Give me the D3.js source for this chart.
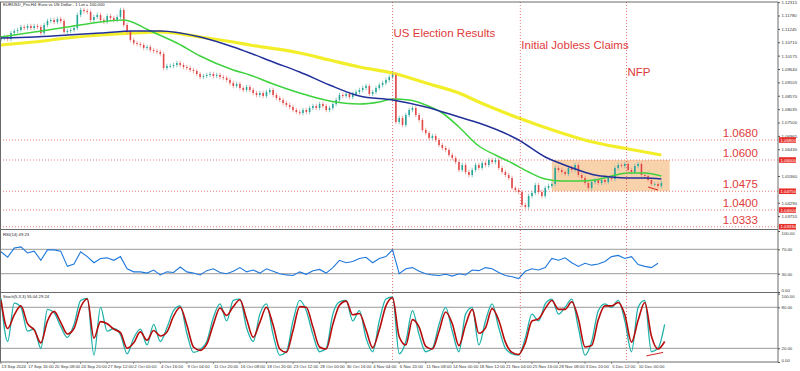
<!DOCTYPE html>
<html>
<head>
<meta charset="utf-8">
<script src="https://cdn.jsdelivr.net/npm/d3@7"></script>
<style>
  body { margin: 0; background: #fff; }
  svg { display: block; font-family: "Liberation Sans", Arial, sans-serif; }
</style>
</head>
<body>
<div id="chart"></div>
<script>
// ---- data ----
// H4 chart, candles taken every 2 bars (8h), index i sits at bar 2*i
var closes = [
  1.1088,1.1092,1.1084,1.1108,1.1116,1.1120,1.1132,1.1128,1.1136,1.1128,
  1.1136,1.1132,1.1108,1.1140,1.1156,1.1160,1.1152,1.1164,1.1156,1.1112,
  1.1116,1.1120,1.1128,1.1180,1.1200,1.1196,1.1192,1.1160,1.1172,1.1180,
  1.1160,1.1152,1.1176,1.1168,1.1160,1.1172,1.1200,1.1140,1.1112,1.1080,
  1.1068,1.1064,1.1060,1.1048,1.1052,1.1040,1.1036,1.1032,1.1024,1.0968,
  1.0976,1.0976,1.0980,1.0988,1.0980,1.0972,1.0968,1.0960,1.0956,1.0944,
  1.0932,1.0936,1.0940,1.0944,1.0936,1.0940,1.0932,1.0928,
  1.0920,1.0908,1.0896,1.0904,1.0888,1.0880,1.0892,1.0880,1.0868,1.0860,
  1.0868,1.0856,1.0872,1.0880,1.0860,1.0848,1.0840,1.0828,1.0820,1.0812,
  1.0800,1.0792,1.0788,1.0800,1.0792,1.0808,1.0816,1.0808,1.0824,1.0816,
  1.0800,1.0808,1.0824,1.0840,1.0860,1.0856,1.0864,1.0852,1.0864,1.0872,
  1.0880,1.0888,1.0896,1.0864,1.0872,1.0888,1.0900,1.0908,1.0920,1.0932,
  1.0940,1.0752,1.0768,1.0740,1.0780,1.0800,1.0808,1.0780,1.0760,1.0720,
  1.0708,1.0688,1.0696,1.0680,1.0660,1.0648,1.0640,1.0620,1.0608,1.0592,
  1.0560,1.0580,1.0552,1.0540,1.0560,1.0580,1.0568,1.0588,1.0580,1.0600,
  1.0592,1.0600,1.0568,1.0552,1.0540,1.0528,1.0488,1.0480,1.0472,1.0420,
  1.0412,1.0456,1.0468,1.0500,1.0472,1.0456,1.0488,1.0496,1.0504,1.0568,
  1.0560,1.0552,1.0544,1.0568,1.0560,1.0580,1.0540,1.0528,1.0508,1.0488,
  1.0512,1.0520,1.0508,1.0520,1.0512,1.0528,1.0524,1.0568,1.0580,1.0576,
  1.0584,1.0560,1.0552,1.0576,1.0584,1.0540,1.0536,1.0520,1.0504,1.0504,
  1.0496,1.0508
];
var firstOpen = 1.1082;

// moving averages: [candle index, price]
var maFast = [[0,1.1092],[10,1.1112],[20,1.1132],[30,1.1152],[37,1.1160],[45,1.1116],[53,1.1068],
  [60,1.1016],[70,1.0960],[75,1.0940],[82,1.0904],[90,1.0868],[99,1.0836],[108,1.0824],[114,1.0832],
  [118,1.0844],[123,1.0840],[128,1.0820],[133,1.0788],[138,1.0732],[144,1.0656],[149,1.0620],
  [154,1.0588],[159,1.0552],[164,1.0524],[169,1.0516],[174,1.0516],[179,1.0520],[184,1.0536],
  [189,1.0548],[194,1.0548],[199,1.0536]];
var maMid = [[0,1.1088],[10,1.1092],[20,1.1100],[30,1.1108],[40,1.1116],[48,1.1116],[60,1.1092],
  [70,1.1052],[75,1.1028],[82,1.0992],[90,1.0952],[99,1.0900],[108,1.0856],[118,1.0840],[128,1.0812],
  [138,1.0772],[144,1.0748],[156,1.0680],[164,1.0612],[169,1.0584],[174,1.0560],[179,1.0540],
  [184,1.0532],[189,1.0528],[194,1.0528],[199,1.0524]];
var maSlow = [[0,1.1060],[10,1.1072],[20,1.1088],[30,1.1100],[40,1.1108],[48,1.1112],[60,1.1092],
  [70,1.1072],[75,1.1060],[90,1.1028],[99,1.1000],[108,1.0972],[118,1.0948],[128,1.0908],
  [138,1.0868],[144,1.0832],[156,1.0768],[168,1.0712],[177,1.0676],[189,1.0644],[199,1.0620]];

// oscillators, one value every 4 bars
var rsi = [66,57,72,74,64,67,52,69,69,67,42,46,66,58,48,55,56,52,58,38,
  33,33,31,36,28,33,32,41,33,31,28,35,38,32,30,34,40,33,36,31,
  38,34,30,28,27,33,29,35,37,31,40,52,48,50,55,57,48,55,58,69,
  30,38,40,34,30,28,27,29,26,30,28,36,35,40,38,32,27,25,22,34,
  38,36,40,55,52,56,48,42,47,44,46,50,58,60,55,58,45,42,40,47];
var stochMain = [93,30,86,80,45,48,20,77,72,52,36,55,90,93,10,80,45,49,40,12,
  35,48,25,55,30,50,75,82,42,14,18,30,65,85,60,90,92,50,30,70,
  85,40,10,15,60,90,75,40,15,20,70,88,90,60,75,35,15,60,92,95,
  12,30,75,40,15,20,55,80,45,15,70,80,25,60,85,50,20,12,10,35,
  70,60,85,92,70,80,92,50,10,30,75,85,80,90,60,15,80,90,15,20,55];
var stochSignal = [90,49,69,82,56,47,28,60,74,58,41,49,80,92,35,59,56,48,43,20,
  28,44,32,46,38,44,67,80,54,22,17,26,55,79,68,81,91,63,36,58,
  80,54,19,14,46,81,80,51,22,19,55,83,89,69,71,47,21,47,82,94,
  37,25,62,51,23,19,45,73,56,24,54,77,42,50,78,61,29,14,11,28,
  60,63,78,90,77,77,88,63,22,24,62,82,82,87,69,29,61,87,38,19,30];

var priceTicks = [1.12315,1.11780,1.11245,1.10710,1.10175,1.09640,1.09105,1.08570,1.08035,
  1.07500,1.06965,1.06430,1.05360,1.04290,1.03755];
var levels = [1.0680, 1.0600, 1.0475, 1.0400, 1.0333];
var timeLabels = ["13 Sep 2024","17 Sep 16:00","20 Sep 08:00","24 Sep 20:00","27 Sep 12:00",
  "2 Oct 00:00","4 Oct 16:00","9 Oct 04:00","11 Oct 20:00","16 Oct 08:00","18 Oct 20:00",
  "23 Oct 12:00","28 Oct 00:00","30 Oct 16:00","4 Nov 04:00","6 Nov 20:00","11 Nov 08:00",
  "14 Nov 00:00","18 Nov 12:00","21 Nov 04:00","25 Nov 16:00","28 Nov 08:00","3 Dec 20:00",
  "5 Dec 12:00","10 Dec 00:00"];
var events = [
  {bar: 236, price: 1.1092, label: "US Election Results"},
  {bar: 313, price: 1.1044, label: "Initial Jobless Claims"},
  {bar: 377, price: 1.0936, label: "NFP"}
];
var zone = {bar0: 332, bar1: 403, lo: 1.0475, hi: 1.0600};
var trendPrice = [[390, 1.0492], [396, 1.0480]];
var trendStoch = [[389, 9], [399, 14]];
var rsiLevels = [70, 30], stochLevels = [80, 20];

// ---- layout ----
var W = 800, H = 371;
var right = 778;
var mainTop = 2, mainBot = 229.5, rsiBot = 292.5, stBot = 362;

var x = d3.scaleLinear().domain([0, 468]).range([1, 777.5]);
var y = d3.scaleLinear().domain([1.03, 1.124]).range([235, 0]);
var yR = d3.scaleLinear().domain([0, 100]).range([292, 231]);
var yS = d3.scaleLinear().domain([0, 100]).range([362, 293.6]);

var svg = d3.select("#chart").append("svg")
    .attr("width", W)
    .attr("height", H);

var defs = svg.append("defs");
function clip(id, y0, y1) {
  defs.append("clipPath").attr("id", id).append("rect")
    .attr("x", 0).attr("y", y0).attr("width", right).attr("height", y1 - y0);
}
clip("cMain", mainTop, mainBot);
clip("cRsi", mainBot, rsiBot);
clip("cSt", rsiBot, stBot);

var gMain = svg.append("g").attr("clip-path", "url(#cMain)");

// support/resistance zone
gMain.append("rect")
    .attr("x", x(zone.bar0))
    .attr("y", y(zone.hi))
    .attr("width", x(zone.bar1) - x(zone.bar0))
    .attr("height", y(zone.lo) - y(zone.hi))
    .attr("fill", "#f8d2ab");

// horizontal levels
gMain.selectAll(".lvl").data(levels).enter().append("line")
    .attr("x1", 0).attr("x2", right)
    .attr("y1", function(d) { return y(d); })
    .attr("y2", function(d) { return y(d); })
    .attr("stroke", "#e05555")
    .attr("stroke-width", 0.8)
    .attr("stroke-dasharray", "1,2");

// moving averages
var maLine = d3.line()
    .x(function(d) { return x(d[0] * 2); })
    .y(function(d) { return y(d[1]); })
    .curve(d3.curveMonotoneX);

gMain.append("path").datum(maSlow)
    .attr("fill", "none").attr("stroke", "#f2ee2a").attr("stroke-width", 3.2).attr("d", maLine);

// candles
var candles = closes.map(function(c, i) {
  return {i: i, o: i ? closes[i - 1] : firstOpen, c: c};
});
var pad = 0.0009;
var cg = gMain.selectAll(".candle").data(candles).enter().append("g");
cg.append("line")
    .attr("x1", function(d) { return x(d.i * 2); })
    .attr("x2", function(d) { return x(d.i * 2); })
    .attr("y1", function(d) { return y(Math.max(d.o, d.c) + pad); })
    .attr("y2", function(d) { return y(Math.min(d.o, d.c) - pad); })
    .attr("stroke", function(d) { return d.c >= d.o ? "#6cbcb2" : "#ef9090"; })
    .attr("stroke-width", 0.8);
cg.append("rect")
    .attr("x", function(d) { return x(d.i * 2) - 0.8; })
    .attr("width", 1.6)
    .attr("y", function(d) { return y(Math.max(d.o, d.c)); })
    .attr("height", function(d) { return Math.max(0.8, Math.abs(y(d.o) - y(d.c))); })
    .attr("fill", function(d) { return d.c >= d.o ? "#26a69a" : "#e04848"; });

gMain.append("path").datum(maFast)
    .attr("fill", "none").attr("stroke", "#3fd23f").attr("stroke-width", 1.5).attr("d", maLine);
gMain.append("path").datum(maMid)
    .attr("fill", "none").attr("stroke", "#22309a").attr("stroke-width", 1.5).attr("d", maLine);

// small trendline under the last candles
gMain.append("path").datum(trendPrice)
    .attr("fill", "none").attr("stroke", "#d42020").attr("stroke-width", 1)
    .attr("d", d3.line().x(function(d) { return x(d[0]); }).y(function(d) { return y(d[1]); }));

// level captions
gMain.selectAll(".lvlText").data(levels).enter().append("text")
    .attr("x", x(435))
    .attr("y", function(d) { return y(d) - 3; })
    .attr("fill", "#e03a3a")
    .style("font-size", "11.5px")
    .text(function(d) { return d3.format(".4f")(d); });

// event lines + captions (span all panels)
svg.selectAll(".ev").data(events).enter().append("line")
    .attr("x1", function(d) { return x(d.bar); })
    .attr("x2", function(d) { return x(d.bar); })
    .attr("y1", mainTop).attr("y2", stBot)
    .attr("stroke", "#e05555")
    .attr("stroke-width", 0.8)
    .attr("stroke-dasharray", "1,2");
svg.selectAll(".evText").data(events).enter().append("text")
    .attr("x", function(d) { return x(d.bar) + 1; })
    .attr("y", function(d) { return y(d.price); })
    .attr("fill", "#e03a3a")
    .style("font-size", "11.5px")
    .text(function(d) { return d.label; });

// ---- RSI panel ----
var gR = svg.append("g").attr("clip-path", "url(#cRsi)");
gR.selectAll("line").data(rsiLevels).enter().append("line")
    .attr("x1", 0).attr("x2", right)
    .attr("y1", function(d) { return yR(d); }).attr("y2", function(d) { return yR(d); })
    .attr("stroke", "#9a9a9a").attr("stroke-width", 1);
gR.append("path").datum(rsi)
    .attr("fill", "none").attr("stroke", "#1e78dc").attr("stroke-width", 1.1)
    .attr("d", d3.line().x(function(d, k) { return x(k * 4); }).y(function(d) { return yR(d); }));

// ---- Stochastic panel ----
var gS = svg.append("g").attr("clip-path", "url(#cSt)");
gS.selectAll("line").data(stochLevels).enter().append("line")
    .attr("x1", 0).attr("x2", right)
    .attr("y1", function(d) { return yS(d); }).attr("y2", function(d) { return yS(d); })
    .attr("stroke", "#9a9a9a").attr("stroke-width", 1);
var stLine = d3.line()
    .x(function(d, k) { return x(k * 4); })
    .y(function(d) { return yS(d); })
    .curve(d3.curveMonotoneX);
gS.append("path").datum(stochMain)
    .attr("fill", "none").attr("stroke", "#20b2aa").attr("stroke-width", 1.3).attr("d", stLine);
gS.append("path").datum(stochSignal)
    .attr("fill", "none").attr("stroke", "#b80c0c").attr("stroke-width", 1.6).attr("d", stLine);
gS.append("path").datum(trendStoch)
    .attr("fill", "none").attr("stroke", "#d42020").attr("stroke-width", 1)
    .attr("d", d3.line().x(function(d) { return x(d[0]); }).y(function(d) { return yS(d[1]); }));

// ---- frames ----
var frame = svg.append("g").attr("fill", "none").attr("stroke", "#6a6a6a").attr("stroke-width", 1);
frame.append("line").attr("x1", 0).attr("x2", right).attr("y1", mainTop).attr("y2", mainTop);
frame.append("line").attr("x1", 0).attr("x2", right).attr("y1", mainBot).attr("y2", mainBot);
frame.append("line").attr("x1", 0).attr("x2", right).attr("y1", rsiBot).attr("y2", rsiBot);
frame.append("line").attr("x1", 0).attr("x2", right).attr("y1", stBot).attr("y2", stBot);
frame.append("line").attr("x1", 0.5).attr("x2", 0.5).attr("y1", mainTop).attr("y2", stBot);
frame.append("line").attr("x1", right).attr("x2", right).attr("y1", mainTop).attr("y2", stBot);

// ---- axes ----
function styleAxis(g) {
  g.select(".domain").remove();
  g.selectAll(".tick line").attr("stroke", "#555");
  g.selectAll(".tick text").attr("fill", "#333").style("font-size", "4.3px");
}
svg.append("g")
    .attr("transform", "translate(" + right + ",0)")
    .call(d3.axisRight(y).tickValues(priceTicks).tickFormat(d3.format(".5f")).tickSize(2).tickPadding(1.5))
    .call(styleAxis);

// red price boxes on the axis
var tag = svg.selectAll(".tag").data(levels).enter().append("g")
    .attr("transform", function(d) { return "translate(" + (right + 1) + "," + y(d) + ")"; });
tag.append("rect").attr("x", 0).attr("y", -2.8).attr("width", 17).attr("height", 5.6).attr("fill", "#e8302a");
tag.append("text").attr("x", 1.5).attr("y", 1.5).attr("fill", "#fff").style("font-size", "4.3px")
    .text(function(d) { return d3.format(".5f")(d); });

svg.append("g")
    .attr("transform", "translate(" + right + ",0)")
    .call(d3.axisRight(yR).tickValues([100, 70, 30, 0]).tickFormat(d3.format(".2f")).tickSize(2).tickPadding(1.5))
    .call(styleAxis)
    .selectAll(".tick text")
    .attr("dy", function(d) { return d === 100 ? "0.9em" : d === 0 ? "-0.1em" : "0.32em"; });

svg.append("g")
    .attr("transform", "translate(" + right + ",0)")
    .call(d3.axisRight(yS).tickValues([100, 80, 20, 0]).tickFormat(d3.format(".2f")).tickSize(2).tickPadding(1.5))
    .call(styleAxis)
    .selectAll(".tick text")
    .attr("dy", function(d) { return d === 100 ? "0.9em" : d === 0 ? "-0.1em" : "0.32em"; });

// time axis
var tx = svg.append("g").attr("class", "time");
tx.selectAll("line").data(timeLabels).enter().append("line")
    .attr("x1", function(d, j) { return x(j * 16); })
    .attr("x2", function(d, j) { return x(j * 16); })
    .attr("y1", stBot).attr("y2", stBot + 2)
    .attr("stroke", "#555").attr("stroke-width", 0.6);
tx.selectAll("text").data(timeLabels).enter().append("text")
    .attr("x", function(d, j) { return x(j * 16) + 0.6; })
    .attr("y", 367.5)
    .attr("fill", "#333")
    .style("font-size", "4.3px")
    .text(function(d) { return d; });

// captions
svg.append("text").attr("x", 3).attr("y", 6).attr("fill", "#222").style("font-size", "4.2px")
    .text("EURUSD_Pro,H4:  Euro vs US Dollar - 1 Lot = 100,000");
svg.append("text").attr("x", 3).attr("y", 236).attr("fill", "#222").style("font-size", "4.2px")
    .text("RSI(14) " + d3.format(".2f")(49.23));
svg.append("text").attr("x", 3).attr("y", 298).attr("fill", "#222").style("font-size", "4.2px")
    .text("Stoch(5,3,3) 55.04 29.24");
</script>
</body>
</html>
